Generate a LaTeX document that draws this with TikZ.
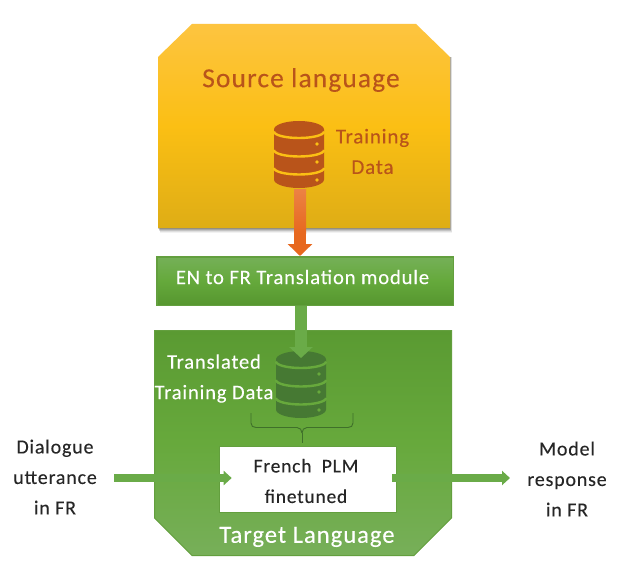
\documentclass[tikz,border=0pt]{standalone}
\usepackage{fontspec}
\setmainfont{Carlito}
\usetikzlibrary{arrows.meta,calc}
\definecolor{rust}{HTML}{B9541A}
\definecolor{gborder}{HTML}{639F3E}
\definecolor{garrow}{HTML}{6AAB48}
\definecolor{darkg}{HTML}{467933}
\definecolor{bracec}{HTML}{3F702A}
\definecolor{oarrow}{HTML}{E7681F}
\definecolor{oarrowtop}{HTML}{EC8244}
\definecolor{srcA}{HTML}{FDC440}
\definecolor{srcB}{HTML}{FBBF14}
\definecolor{srcC}{HTML}{DEAD15}
\definecolor{tgtA}{HTML}{5A9A32}
\definecolor{tgtB}{HTML}{67A93C}
\definecolor{tgtC}{HTML}{77AF59}
\definecolor{modA}{HTML}{75B058}
\definecolor{modB}{HTML}{65A93B}
\definecolor{modC}{HTML}{56962F}
\tikzset{
  lbl/.style={font=\fontsize{#1}{30.5}\selectfont\addfontfeature{LetterSpace=4,FakeBold=0.15},inner sep=0pt,align=center},
  darklbl/.style={lbl=20,text=black!85},
  whitelbl/.style={lbl=20.6,text=white},
  rustlbl/.style={lbl=21,text=rust},
  garrowline/.style={draw=garrow,line width=8pt,-{Triangle[length=8pt,width=14pt,inset=0pt]}},
  bigarrow/.style={line width=12pt,-{Triangle[length=12pt,width=24pt,inset=0pt]}},
  dbslot/.style={minimum width=50pt,minimum height=67pt,inner sep=0pt,outer sep=0pt},
  bracepart/.style={draw=bracec,line width=.9pt},
  pics/dbicon/.style n args={2}{code={
    \fill[#1] (0,8.5) .. controls (0,3.8) and (11.2,0) .. (25,0) .. controls (38.8,0) and (50,3.8) .. (50,8.5)
      -- (50,58.5) .. controls (50,63.2) and (38.8,67) .. (25,67) .. controls (11.2,67) and (0,63.2) .. (0,58.5) -- cycle;
    \foreach \yy in {10.5,29,47}{
      \draw[#2,line width=2.4pt] (0,\yy) .. controls (0,\yy+3.6) and (11.2,\yy+6.5) .. (25,\yy+6.5)
        .. controls (38.8,\yy+6.5) and (50,\yy+3.6) .. (50,\yy);
    }
    \foreach \yy in {23,41,59}{\fill[#2] (43,\yy) circle[radius=1.9pt];}
  }}
}
\begin{document}
\begin{tikzpicture}[x=1pt,y=-1pt]
\useasboundingbox (0,0) rectangle (622,578);
\fill[white] (0,0) rectangle (622,578);
% source shadow
\foreach \d/\o in {1/.16,2/.14,3/.12,4/.08,5/.05}{
  \fill[black,opacity=\o] (158+\d*.4,57) -- (158+\d*.4,228+\d) -- (450+\d*.4,228+\d) -- (450+\d*.4,57) -- cycle;
}
% source language shape
\shade[top color=srcA,bottom color=srcC,middle color=srcB]
  (192,24) -- (416,24) -- (450,57) -- (450,228) -- (158,228) -- (158,57) -- cycle;
\node[lbl=27.5,text=rust] (srctitle) at (301,80) {Source language};
\node[dbslot] (db1) at (299,154.5) {};
\pic at (db1.north west) {dbicon={rust}{srcB}};
\node[rustlbl] (traindata) at (372.5,151.5) {Training\\Data};
% target language shape
\shade[top color=tgtA,bottom color=tgtC,middle color=tgtB,draw=gborder,line width=1pt]
  (154.5,330.5) -- (451.5,330.5) -- (451.5,518) -- (414,555.5) -- (192,555.5) -- (154.5,518) -- cycle;
% translation module
\node[draw=gborder,line width=1.5pt,top color=modA,bottom color=modC,middle color=modB,
  minimum width=296.5pt,minimum height=48.5pt,inner sep=0pt] (module) at (305,281) {};
\node[whitelbl] (moduletxt) at (302.5,277) {EN to FR Translation module};
% orange connector
\draw[oarrow,bigarrow] (db1.south) ++(1,1) coordinate (oa) -- (oa |- module.north);
\shade[top color=oarrowtop,bottom color=oarrow] ($(oa)+(-6,0)$) rectangle ($(oa)+(6,44)$);
% translated data
\node[dbslot] (db2) at (301,384.5) {};
\pic at (db2.north west) {dbicon={darkg}{tgtB}};
\draw[garrow,line width=12pt,-{Triangle[length=11pt,width=23pt,inset=0pt]}]
  (module.south -| db2) -- ($(db2.north)+(0,7)$);
\node[whitelbl] (transdata) at (214,378.5) {Translated\\Training Data};
% model
\node[fill=white,draw=gborder,line width=.6pt,minimum width=177pt,minimum height=66pt,inner sep=0pt] (plm) at (307.5,479) {};
\node[lbl=19.5,text=black!85] (plmtxt) at (306,481) {French\ \ PLM\\finetuned};
% brace
\coordinate (bracemid) at (302,427.5);
\draw[bracepart] (251,413) -- (251,423) .. controls (251,426) and (253,427.5) .. (256,427.5)
  -- (297,427.5) .. controls (300,427.5) and (302,430) .. (302,433);
\draw[bracepart] (353,413) -- (353,423) .. controls (353,426) and (351,427.5) .. (348,427.5)
  -- (307,427.5) .. controls (304,427.5) and (302,430) .. (302,433);
\draw[bracepart,shorten >=3pt] (302,433) -- (plm.north -| bracemid);
\node[lbl=24.6,text=white] (tgttitle) at (307,537) {Target Language};
% side labels and connectors
\node[darklbl] (inlbl) at (55,477) {Dialogue\\utterance\\in FR};
\node[darklbl] (outlbl) at (567,479) {Model\\response\\in FR};
\coordinate (instart) at (114,478);
\coordinate (outend) at (510,478);
\draw[garrowline] (instart) -- ($(plm.west |- instart)+(13,0)$);
\draw[garrowline] ($(plm.east |- outend)+(-4,0)$) -- (outend);
\end{tikzpicture}
\end{document}
